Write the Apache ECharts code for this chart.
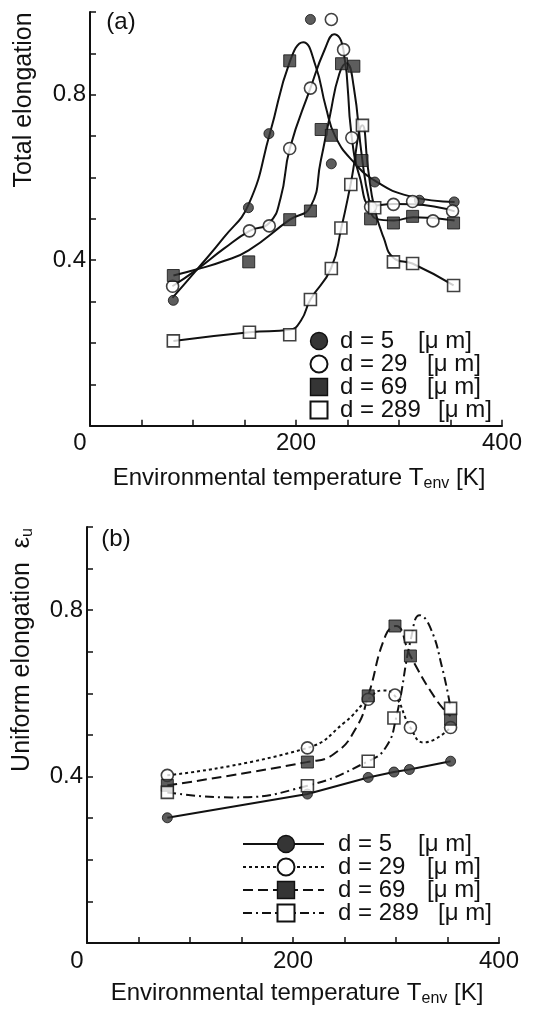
<!DOCTYPE html>
<html><head><meta charset="utf-8">
<script src="https://cdn.jsdelivr.net/npm/echarts/dist/echarts.min.js"></script>
<style>html,body{margin:0;padding:0;background:#fff}#c{width:539px;height:1009px}</style>
</head><body><div id="c"></div>
<script>
// ---------- tick labels ----------
const X_TICK_LABELS = [0, 200, 400];
const Y_TICK_LABELS = [0.4, 0.8];
const LEGEND_D = ['5', '29', '69', '289'];

// ---------- panel (a): total elongation, measured points ----------
const A_D5_T   = [80.9, 153.8, 173.7, 214.0, 234.3, 276.5, 319.8, 353.6];
const A_D5_E   = [0.303, 0.527, 0.706, 0.982, 0.633, 0.589, 0.545, 0.541];
const A_D29_T  = [80.2, 154.8, 174.0, 193.9, 214.0, 234.3, 246.2, 254.2, 272.4, 294.6, 313.2, 333.0, 352.0];
const A_D29_E  = [0.337, 0.471, 0.483, 0.670, 0.816, 0.982, 0.909, 0.696, 0.529, 0.535, 0.542, 0.495, 0.519];
const A_D69_T  = [80.9, 154.1, 193.9, 193.9, 214.0, 224.4, 234.3, 244.2, 256.2, 264.1, 272.4, 294.6, 313.2, 353.0];
const A_D69_E  = [0.363, 0.396, 0.882, 0.498, 0.519, 0.716, 0.702, 0.875, 0.869, 0.641, 0.500, 0.490, 0.506, 0.490];
const A_D289_T = [80.9, 154.8, 193.9, 214.0, 234.3, 243.6, 253.2, 264.5, 276.4, 294.6, 313.2, 353.0];
const A_D289_E = [0.205, 0.226, 0.220, 0.305, 0.380, 0.478, 0.583, 0.726, 0.527, 0.396, 0.392, 0.339];

// ---------- panel (a): fitted curves ----------
const A_D5_CT   = [80, 104, 130, 154, 175, 194, 207, 219, 229, 238, 255, 278, 310, 354];
const A_D5_CE   = [0.309, 0.378, 0.455, 0.535, 0.710, 0.880, 0.927, 0.870, 0.770, 0.700, 0.640, 0.590, 0.555, 0.541];
const A_D29_CT  = [80, 104, 130, 155, 174, 185, 194, 214, 228, 237, 246, 254, 262, 274, 295, 314, 354];
const A_D29_CE  = [0.337, 0.378, 0.428, 0.471, 0.490, 0.550, 0.670, 0.816, 0.910, 0.946, 0.909, 0.700, 0.600, 0.532, 0.536, 0.535, 0.518];
const A_D69_CT  = [81, 104, 130, 154, 194, 214, 224, 233, 242, 249, 256, 264, 271, 278, 295, 314, 354];
const A_D69_CE  = [0.363, 0.378, 0.398, 0.424, 0.498, 0.529, 0.640, 0.750, 0.850, 0.876, 0.820, 0.650, 0.545, 0.500, 0.496, 0.504, 0.496];
const A_D289_CT = [81, 155, 194, 205, 214, 234, 244, 253, 264.5, 270, 276, 285, 295, 313, 353];
const A_D289_CE = [0.205, 0.226, 0.232, 0.255, 0.305, 0.380, 0.478, 0.583, 0.726, 0.620, 0.527, 0.455, 0.405, 0.392, 0.339];

// ---------- panel (b): uniform elongation, measured points ----------
const B_D5_T   = [78, 214, 273, 298, 313, 353];
const B_D5_E   = [0.301, 0.358, 0.398, 0.411, 0.417, 0.437];
const B_D29_T  = [78, 214, 273, 299, 314, 353];
const B_D29_E  = [0.403, 0.469, 0.586, 0.596, 0.518, 0.518];
const B_D69_T  = [78, 214, 273, 299, 314, 353];
const B_D69_E  = [0.379, 0.435, 0.594, 0.762, 0.690, 0.538];
const B_D289_T = [78, 214, 273, 298, 314, 353];
const B_D289_E = [0.362, 0.378, 0.437, 0.541, 0.737, 0.564];

// ---------- panel (b): fitted curves ----------
const B_D29_CT  = [78, 214, 250, 273, 287, 298, 314, 327, 353];
const B_D29_CE  = [0.403, 0.469, 0.530, 0.586, 0.607, 0.597, 0.518, 0.482, 0.518];
const B_D69_CT  = [78, 214, 240, 262, 273, 290, 300, 314, 339, 353];
const B_D69_CE  = [0.379, 0.435, 0.455, 0.520, 0.594, 0.740, 0.762, 0.690, 0.585, 0.545];
const B_D289_CT = [78, 140, 214, 273, 290, 300, 315, 323, 333, 345, 353];
const B_D289_CE = [0.362, 0.350, 0.378, 0.437, 0.470, 0.540, 0.737, 0.788, 0.760, 0.660, 0.564];

const FONT = '"Liberation Sans", Arial, Helvetica, sans-serif';
const INK = '#111';
const zip = (t, e) => t.map((v, i) => [v, e[i]]);

const GRIDS = [
  { left: 90, top: 12, width: 412, height: 413.7 },
  { left: 87, top: 527, width: 412, height: 416 }
];

function xAx(gi) {
  return {
    type: 'value', gridIndex: gi, min: 0, max: 400, interval: 50,
    axisLine: { show: true, lineStyle: { color: INK, width: 2 } },
    axisTick: { show: true, inside: true, length: 6, lineStyle: { color: INK, width: 1.5 } },
    splitLine: { show: false },
    axisLabel: {
      color: INK, fontSize: 24, fontFamily: FONT, margin: 6, showMinLabel: true, showMaxLabel: true,
      formatter: v => X_TICK_LABELS.includes(v) ? (v === 0 ? '{z|0}' : String(v)) : '',
      rich: { z: { fontSize: 24, fontFamily: FONT, color: INK, padding: [0, 20, 0, 0] } }
    }
  };
}
function yAx(gi) {
  return {
    type: 'value', gridIndex: gi, min: 0, max: 1, interval: 0.1,
    axisLine: { show: true, lineStyle: { color: INK, width: 2 } },
    axisTick: { show: true, inside: true, length: 6, lineStyle: { color: INK, width: 1.5 } },
    splitLine: { show: false },
    axisLabel: {
      color: INK, fontSize: 24, fontFamily: FONT, margin: 4,
      formatter: v => {
        const r = Math.round(v * 10) / 10;
        return Y_TICK_LABELS.includes(r) ? r.toFixed(1) : '';
      }
    }
  };
}

function curve(gi, T, E, dash, smooth) {
  return {
    type: 'line', xAxisIndex: gi, yAxisIndex: gi, data: zip(T, E),
    smooth: smooth === undefined ? 0.5 : smooth,
    symbol: 'none', silent: true, z: 2,
    lineStyle: { color: INK, width: 2, type: dash || 'solid' }
  };
}
const STY = {
  fc: { symbol: 'circle', size: 10, style: { color: '#353535', borderColor: INK, borderWidth: 1 } },
  oc: { symbol: 'circle', size: 12, style: { color: '#fff', borderColor: INK, borderWidth: 1.6 } },
  fs: { symbol: 'rect', size: 12, style: { color: '#353535', borderColor: INK, borderWidth: 1 } },
  os: { symbol: 'rect', size: 12, style: { color: '#fff', borderColor: INK, borderWidth: 1.6 } }
};
function marks(gi, T, E, kind, name) {
  const s = STY[kind];
  return {
    type: 'scatter', name: name, xAxisIndex: gi, yAxisIndex: gi, data: zip(T, E),
    symbol: s.symbol, symbolSize: s.size, itemStyle: s.style, z: 4
  };
}

const series = [
  curve(0, A_D5_CT, A_D5_CE), curve(0, A_D29_CT, A_D29_CE),
  curve(0, A_D69_CT, A_D69_CE), curve(0, A_D289_CT, A_D289_CE),
  marks(0, A_D5_T, A_D5_E, 'fc', 'a d=5'), marks(0, A_D29_T, A_D29_E, 'oc', 'a d=29'),
  marks(0, A_D69_T, A_D69_E, 'fs', 'a d=69'), marks(0, A_D289_T, A_D289_E, 'os', 'a d=289'),
  curve(1, B_D5_T, B_D5_E, 'solid', false),
  curve(1, B_D29_CT, B_D29_CE, [3, 3]),
  curve(1, B_D69_CT, B_D69_CE, [10, 5]),
  curve(1, B_D289_CT, B_D289_CE, [9, 4, 2, 4]),
  marks(1, B_D5_T, B_D5_E, 'fc', 'b d=5'), marks(1, B_D29_T, B_D29_E, 'oc', 'b d=29'),
  marks(1, B_D69_T, B_D69_E, 'fs', 'b d=69'), marks(1, B_D289_T, B_D289_E, 'os', 'b d=289')
];

// ---------- text & legends ----------
const TS = { fontFamily: FONT, fontSize: 24, fill: INK };
function txt(x, y, text, extra) {
  return { type: 'text', x: x, y: y, z: 100, style: Object.assign({}, TS, { text: text }, extra || {}) };
}
const graphic = [];
graphic.push(txt(121, 22, '(a)', { align: 'center', verticalAlign: 'middle' }));
graphic.push(txt(116, 539, '(b)', { align: 'center', verticalAlign: 'middle' }));
const subRich = { s: { fontFamily: FONT, fontSize: 16, fill: INK, padding: [12, 0, 0, 0] } };
graphic.push({ type: 'text', x: 24, y: 100, rotation: Math.PI / 2, z: 100,
  style: Object.assign({}, TS, { text: 'Total elongation', fontSize: 25, align: 'center', verticalAlign: 'middle' }) });
graphic.push({ type: 'text', x: 22, y: 650, rotation: Math.PI / 2, z: 100,
  style: Object.assign({}, TS, { text: 'Uniform elongation  ε{s|u}', fontSize: 25, align: 'center', verticalAlign: 'middle', rich: subRich }) });
graphic.push(txt(299, 478, 'Environmental temperature T{s|env} [K]', { align: 'center', verticalAlign: 'middle', rich: subRich }));
graphic.push(txt(297, 993, 'Environmental temperature T{s|env} [K]', { align: 'center', verticalAlign: 'middle', rich: subRich }));

const KINDS = ['fc', 'oc', 'fs', 'os'];
const UNIT_X = [418, 427, 427, 438];
function legendSym(kind, cx, cy, sz) {
  const s = STY[kind].style;
  const st = { fill: s.color, stroke: s.borderColor, lineWidth: s.borderWidth + 0.4 };
  if (STY[kind].symbol === 'circle') return { type: 'circle', z: 101, shape: { cx: cx, cy: cy, r: sz / 2 }, style: st };
  return { type: 'rect', z: 101, shape: { x: cx - sz / 2, y: cy - sz / 2, width: sz, height: sz }, style: st };
}
// legend (a)
const LA_ROWS = [341, 364, 387, 410];
LEGEND_D.forEach((d, i) => {
  graphic.push(legendSym(KINDS[i], 319, LA_ROWS[i], 17));
  graphic.push(txt(340, LA_ROWS[i], 'd = ' + d, { verticalAlign: 'middle' }));
  graphic.push(txt(UNIT_X[i], LA_ROWS[i], '[μ m]', { verticalAlign: 'middle' }));
});
// legend (b)
const LB_ROWS = [844, 867, 890, 913];
const LB_DASH = [null, [3, 3], [10, 5], [9, 4, 2, 4]];
LEGEND_D.forEach((d, i) => {
  graphic.push({ type: 'line', z: 100, shape: { x1: 243, y1: LB_ROWS[i], x2: 324, y2: LB_ROWS[i] },
    style: { stroke: INK, lineWidth: 2, lineDash: LB_DASH[i] } });
  graphic.push(legendSym(KINDS[i], 286, LB_ROWS[i], 17));
  graphic.push(txt(338, LB_ROWS[i], 'd = ' + d, { verticalAlign: 'middle' }));
  graphic.push(txt(UNIT_X[i], LB_ROWS[i], '[μ m]', { verticalAlign: 'middle' }));
});

const chart = echarts.init(document.getElementById('c'), null, { renderer: 'canvas' });
chart.setOption({
  animation: false,
  backgroundColor: '#fff',
  grid: GRIDS,
  xAxis: [xAx(0), xAx(1)],
  yAxis: [yAx(0), yAx(1)],
  series: series,
  graphic: graphic
});
</script>
</body></html>
